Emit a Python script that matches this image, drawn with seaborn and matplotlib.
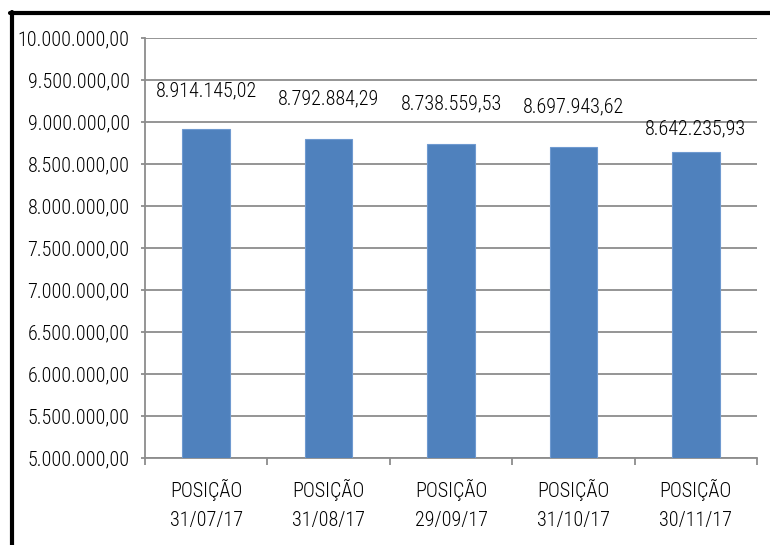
import matplotlib
matplotlib.use("Agg")
import matplotlib.pyplot as plt
import seaborn as sns
import pandas as pd
import numpy as np
from matplotlib.lines import Line2D
from matplotlib.ticker import FuncFormatter, FixedLocator

categories = ["POSIÇÃO\n31/07/17", "POSIÇÃO\n31/08/17", "POSIÇÃO\n29/09/17",
              "POSIÇÃO\n31/10/17", "POSIÇÃO\n30/11/17"]
values = [8914145.02, 8792884.29, 8738559.53, 8697943.62, 8642235.93]
y_ticks = [5000000 + 500000 * i for i in range(11)]

label_offsets_px = [38, 41, 40, 40, 23]

sns.set_theme(style="white")
plt.rcParams['font.family'] = ['Roboto Condensed', 'DejaVu Sans']

FS = 14.5
FW = 300

def br(v):
    s = f"{v:,.2f}"
    return s.replace(",", "X").replace(".", ",").replace("X", ".")

df = pd.DataFrame({"cat": categories, "val": values})

fig = plt.figure(figsize=(7.7, 5.45), dpi=100)
ax = fig.add_axes([145/770, 1 - 458/545, (757-145)/770, (458-38)/545])

sns.barplot(data=df, x="cat", y="val", color="#4F81BD", width=0.39,
            edgecolor="#6F9AD0", linewidth=0.8, saturation=1, ax=ax, zorder=3)

ax.set_ylim(5000000, 10000000)
ax.set_xlim(-0.5, 4.5)
ax.yaxis.set_major_locator(FixedLocator(y_ticks))
ax.yaxis.set_major_formatter(FuncFormatter(lambda v, p: br(v)))
ax.grid(axis="y", color="#8C8C8C", linewidth=1.3, zorder=0)
ax.set_axisbelow(True)
for s in ["top", "right"]:
    ax.spines[s].set_visible(False)
for s in ["left", "bottom"]:
    ax.spines[s].set_color("#8C8C8C")
    ax.spines[s].set_linewidth(1.3)
ax.set_xlabel("")
ax.set_ylabel("")
ax.tick_params(axis="y", which="major", left=True, length=3, width=1.3,
               color="#8C8C8C", labelsize=FS, labelcolor="#000000", pad=8)
ax.tick_params(axis="x", which="major", bottom=False, labelsize=FS,
               labelcolor="#000000", pad=9)
ax.xaxis.set_minor_locator(FixedLocator(np.arange(-0.5, 5.0, 1.0)))
ax.tick_params(axis="x", which="minor", bottom=True, length=5, width=1.3,
               color="#8C8C8C")
for lab in ax.get_xticklabels() + ax.get_yticklabels():
    lab.set_fontweight(FW)
for lab in ax.get_xticklabels():
    lab.set_linespacing(1.65)

for i, (v, off) in enumerate(zip(values, label_offsets_px)):
    ax.annotate(br(v), xy=(i, v), xytext=(0, off * 0.72), textcoords="offset points",
                ha="center", va="center", fontsize=FS, fontweight=FW, color="#000000")

fig.add_artist(Line2D([11.5/770, 11.5/770], [0, 1 - 11.5/545], transform=fig.transFigure,
                      color="black", linewidth=3))
fig.add_artist(Line2D([10/770, 1], [1 - 13/545, 1 - 13/545], transform=fig.transFigure,
                      color="black", linewidth=3))

fig.savefig("out.png", dpi=100, facecolor="white")
